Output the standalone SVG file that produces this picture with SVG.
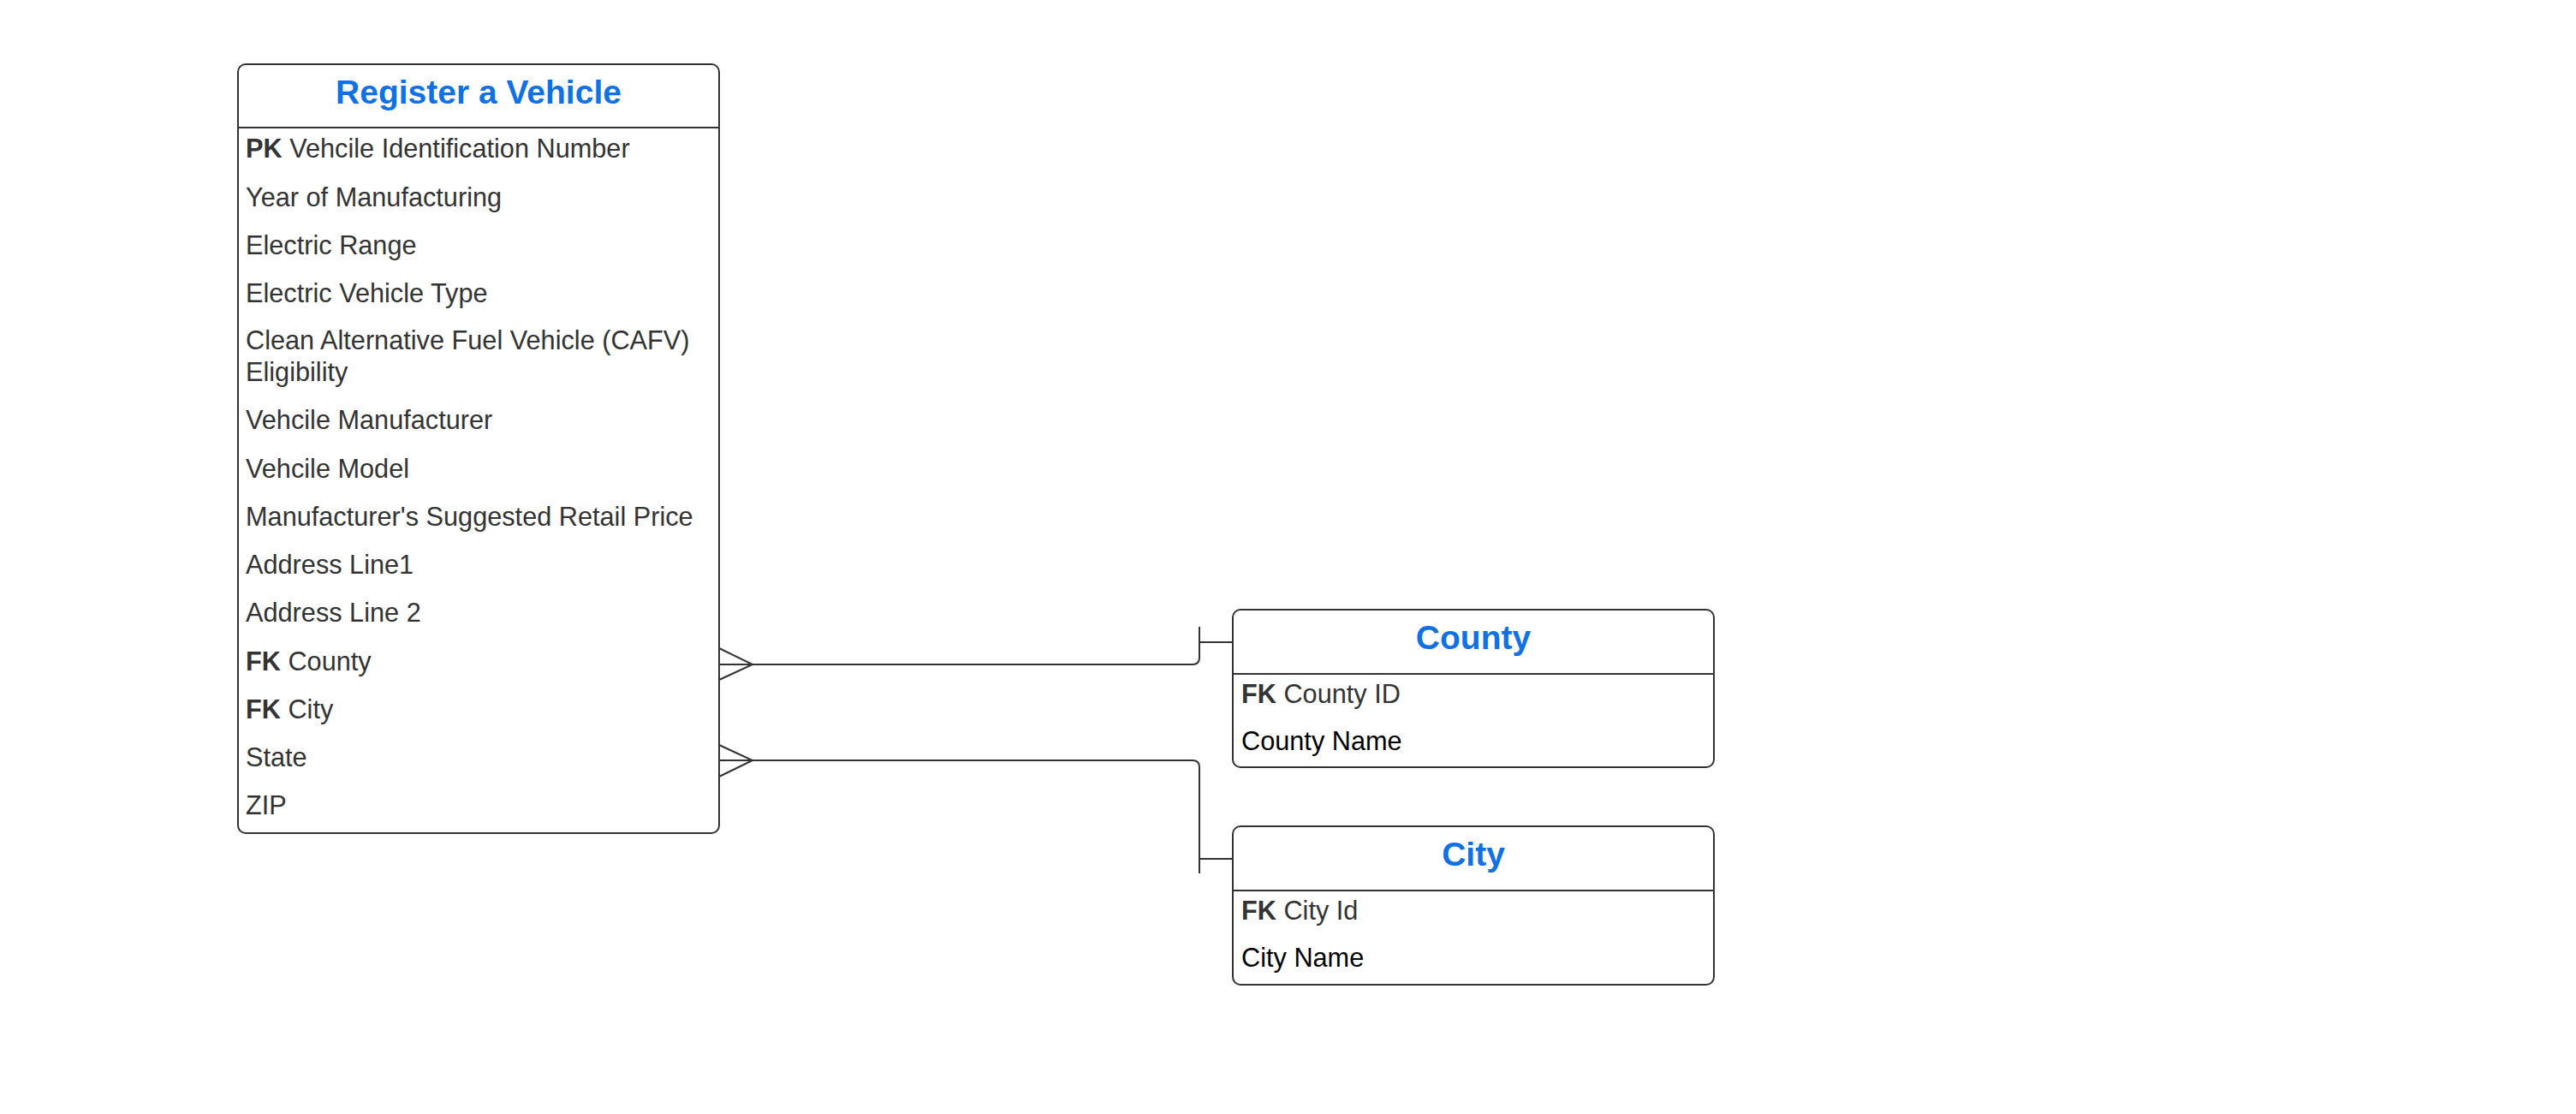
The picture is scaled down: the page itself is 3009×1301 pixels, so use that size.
<svg xmlns="http://www.w3.org/2000/svg" width="3009" height="1301" viewBox="0 0 3009 1301">
<style>
.box{fill:#fff;stroke:#333;stroke-width:2}
.div{stroke:#333;stroke-width:2}
.title{font-family:"Liberation Sans",Arial,sans-serif;font-weight:bold;font-size:39px;fill:#1071e5;text-anchor:middle}
.row{font-family:"Liberation Sans",Arial,sans-serif;font-size:30.7px;fill:#333}
.blk{fill:#000}
.b{font-weight:bold}
.conn{fill:none;stroke:#333;stroke-width:2}
</style>
<rect width="3009" height="1301" fill="#fff"/>
<g id="register-a-vehicle">
<rect class="box" x="278" y="75" width="562" height="898" rx="9"/>
<line class="div" x1="278" y1="149" x2="840" y2="149"/>
<text class="title" x="559" y="121">Register a Vehicle</text>
<text class="row" x="287" y="184"><tspan class="b">PK</tspan> Vehcile Identification Number</text>
<text class="row" x="287" y="241">Year of Manufacturing</text>
<text class="row" x="287" y="297">Electric Range</text>
<text class="row" x="287" y="353">Electric Vehicle Type</text>
<text class="row" x="287" y="408">Clean Alternative Fuel Vehicle (CAFV)</text>
<text class="row" x="287" y="445">Eligibility</text>
<text class="row" x="287" y="501">Vehcile Manufacturer</text>
<text class="row" x="287" y="558">Vehcile Model</text>
<text class="row" x="287" y="614">Manufacturer's Suggested Retail Price</text>
<text class="row" x="287" y="670">Address Line1</text>
<text class="row" x="287" y="726">Address Line 2</text>
<text class="row" x="287" y="783"><tspan class="b">FK</tspan> County</text>
<text class="row" x="287" y="839"><tspan class="b">FK</tspan> City</text>
<text class="row" x="287" y="895">State</text>
<text class="row" x="287" y="951">ZIP</text>
</g>
<g id="county">
<rect class="box" x="1440" y="712" width="562" height="184" rx="9"/>
<line class="div" x1="1440" y1="787" x2="2002" y2="787"/>
<text class="title" x="1721" y="758">County</text>
<text class="row" x="1450" y="821"><tspan class="b">FK</tspan> County ID</text>
<text class="row blk" x="1450" y="876">County Name</text>
</g>
<g id="city">
<rect class="box" x="1440" y="965" width="562" height="185" rx="9"/>
<line class="div" x1="1440" y1="1040" x2="2002" y2="1040"/>
<text class="title" x="1721" y="1011">City</text>
<text class="row" x="1450" y="1074"><tspan class="b">FK</tspan> City Id</text>
<text class="row blk" x="1450" y="1129">City Name</text>
</g>
<g id="connectors">
<path class="conn" d="M840 776 H1393 Q1401 776 1401 768 V750 H1440"/>
<path class="conn" d="M840 757 L879 776 L840 794"/>
<line class="conn" x1="1401" y1="732" x2="1401" y2="768"/>
<path class="conn" d="M840 888 H1393 Q1401 888 1401 896 V1003 H1440"/>
<path class="conn" d="M840 870 L879 888 L840 907"/>
<line class="conn" x1="1401" y1="983" x2="1401" y2="1020"/>
</g>
</svg>
